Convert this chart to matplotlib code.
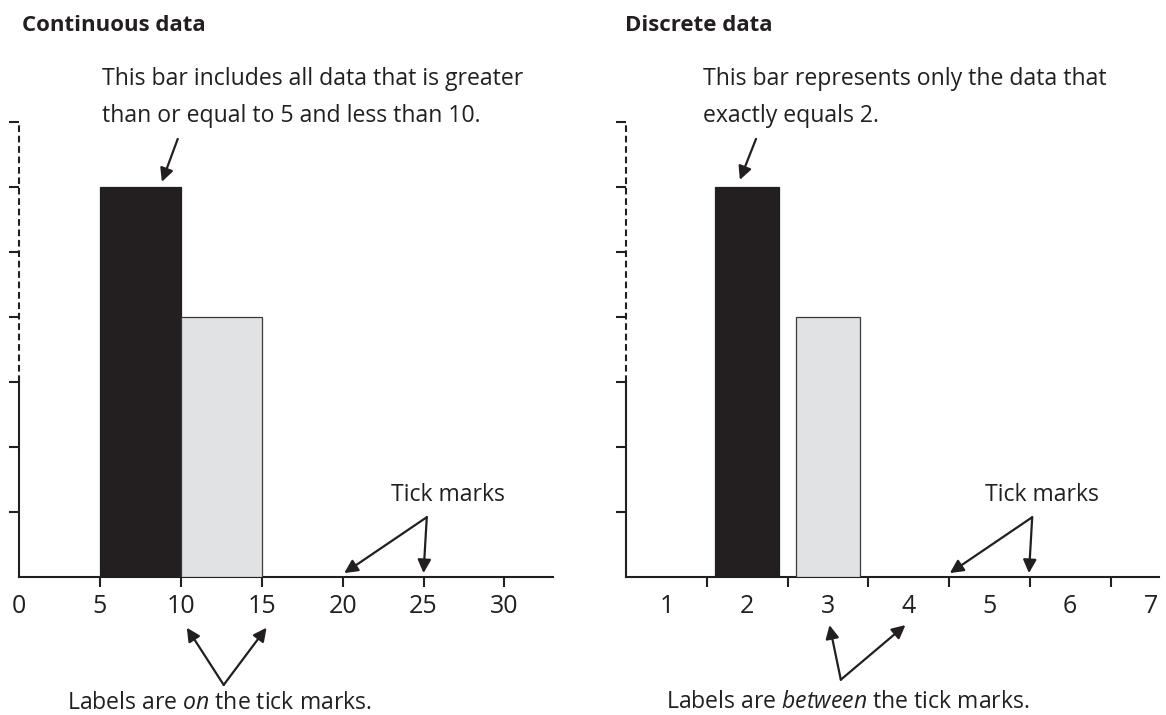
import matplotlib
matplotlib.use('Agg')
import matplotlib.pyplot as plt

plt.rcParams['font.family'] = ['Open Sans', 'DejaVu Sans']
plt.rcParams['mathtext.fontset'] = 'custom'
plt.rcParams['mathtext.rm'] = 'Open Sans'
plt.rcParams['mathtext.it'] = 'Open Sans:italic'

# ---------------- data ----------------
cont_bin_left = [5, 10]
cont_bin_width = 5
cont_heights = [6, 4]
cont_xticks = [0, 5, 10, 15, 20, 25, 30]

disc_categories = [2, 3]
disc_heights = [6, 4]
disc_labels = [1, 2, 3, 4, 5, 6, 7]
disc_tick_marks = [1.5, 2.5, 3.5, 4.5, 5.5, 6.5]

y_ticks = [1, 2, 3, 4, 5, 6, 7]
solid_axis_top = 3

bar_fill = ['#231f20', '#e1e2e4']
bar_edge = ['#231f20', '#3a3a3a']
ink = '#231f20'

# ---------------- figure ----------------
W, H = 1166, 715
fig = plt.figure(figsize=(W / 100, H / 100), dpi=100)
ax1 = fig.add_axes([19 / W, (H - 577) / H, 534 / W, 455 / H])
ax2 = fig.add_axes([626 / W, (H - 577) / H, 533 / W, 455 / H])

AX_LW = 1.5
TICK_FS = 18
TXT_FS = 16.6
TITLE_FS = 16


def style_axis(ax):
    for s in ['top', 'right']:
        ax.spines[s].set_visible(False)
    ax.spines['left'].set_bounds(0, solid_axis_top)
    for s in ['left', 'bottom']:
        ax.spines[s].set_linewidth(AX_LW)
        ax.spines[s].set_color(ink)
    ax.plot([0, 0], [solid_axis_top, max(y_ticks)], transform=ax.get_yaxis_transform(),
            color=ink, lw=AX_LW, ls=(0, (3.2, 1.8)), clip_on=False)
    ax.set_ylim(0, 7)
    ax.set_yticks(y_ticks)
    ax.set_yticklabels([])
    ax.tick_params(axis='y', direction='out', length=7.5, width=AX_LW, color=ink)
    ax.tick_params(axis='x', which='major', direction='out', length=7, width=AX_LW,
                   color=ink, labelsize=TICK_FS, labelcolor=ink, pad=5)
    ax.patch.set_alpha(0)


# ---- left: continuous ----
ax1.bar(cont_bin_left, cont_heights, width=cont_bin_width, align='edge',
        color=bar_fill, edgecolor=bar_edge, linewidth=0.9, zorder=3)
ax1.set_xlim(0, 33)
style_axis(ax1)
ax1.set_xticks(cont_xticks)
ax1.set_xticklabels([str(v) for v in cont_xticks])
ax1.xaxis.get_major_ticks()[0].tick1line.set_visible(False)

# ---- right: discrete ----
ax2.bar(disc_categories, disc_heights, width=0.8,
        color=bar_fill, edgecolor=bar_edge, linewidth=0.9, zorder=3)
ax2.set_xlim(0.5, 7.1)
style_axis(ax2)
ax2.set_xticks(disc_tick_marks)
ax2.set_xticklabels([])
ax2.set_xticks(disc_labels, minor=True)
ax2.set_xticklabels([str(v) for v in disc_labels], minor=True)
ax2.tick_params(axis='x', which='minor', length=0, labelsize=TICK_FS,
                labelcolor=ink, pad=12)

arrow = dict(arrowstyle='-|>', color=ink, lw=1.6, mutation_scale=20,
             shrinkA=0, shrinkB=0)


def txt(ax, x, y, s, **kw):
    kw.setdefault('fontsize', TXT_FS)
    kw.setdefault('color', ink)
    ax.text(x, y, s, clip_on=False, **kw)


def arr(ax, tail, head):
    ax.annotate('', xy=head, xytext=tail, arrowprops=arrow, annotation_clip=False)


# left annotations
txt(ax1, 0.2, 8.4, 'Continuous data', fontsize=TITLE_FS, fontweight='bold', va='baseline')
txt(ax1, 5.1, 7.57, 'This bar includes all data that is greater', va='baseline')
txt(ax1, 5.1, 7.0, 'than or equal to 5 and less than 10.', va='baseline')
arr(ax1, (9.81, 6.74), (8.83, 6.08))
txt(ax1, 26.5, 1.26, 'Tick marks', ha='center', va='center')
arr(ax1, (25.2, 0.92), (20.1, 0.06))
arr(ax1, (25.2, 0.92), (25.0, 0.06))
arr(ax1, (12.65, -1.66), (10.37, -0.78))
arr(ax1, (12.65, -1.66), (15.3, -0.78))
txt(ax1, 12.4, -1.94, r'Labels are $\mathit{on}$ the tick marks.', ha='center', va='center')

# right annotations
txt(ax2, 0.49, 8.4, 'Discrete data', fontsize=TITLE_FS, fontweight='bold', va='baseline')
txt(ax2, 1.45, 7.57, 'This bar represents only the data that', va='baseline')
txt(ax2, 1.45, 7.0, 'exactly equals 2.', va='baseline')
arr(ax2, (2.11, 6.74), (1.91, 6.11))
txt(ax2, 5.65, 1.26, 'Tick marks', ha='center', va='center')
arr(ax2, (5.53, 0.92), (4.51, 0.06))
arr(ax2, (5.53, 0.92), (5.49, 0.06))
arr(ax2, (3.16, -1.58), (3.02, -0.74))
arr(ax2, (3.16, -1.58), (3.96, -0.74))
txt(ax2, 3.25, -1.92, r'Labels are $\mathit{between}$ the tick marks.', ha='center', va='center')

fig.savefig('out.png', dpi=100, facecolor='white')
